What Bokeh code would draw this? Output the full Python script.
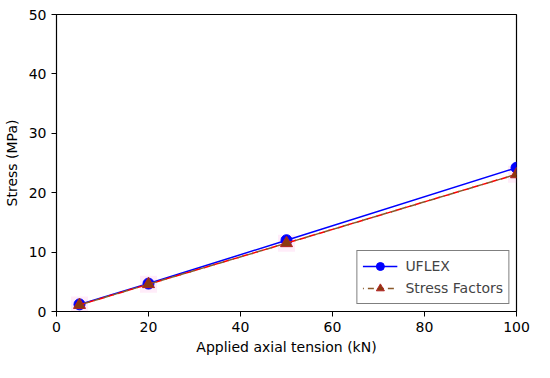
from bokeh.plotting import figure
from bokeh.models import Range1d, Legend, LegendItem, FixedTicker
from bokeh.embed import file_html
from bokeh.resources import INLINE

tension = [5, 20, 50, 100]
uflex = [1.2, 4.7, 12.0, 24.2]
stress_factors = [1.1, 4.6, 11.5, 23.1]
x_ticks = [0, 20, 40, 60, 80, 100]
y_ticks = [0, 10, 20, 30, 40, 50]

FONT = "DejaVu Sans"

p = figure(width=534, height=362, output_backend="svg", toolbar_location=None,
           x_range=Range1d(0, 100), y_range=Range1d(0, 50),
           min_border_left=53, min_border_right=18, min_border_top=14, min_border_bottom=51)
p.xgrid.visible = False
p.ygrid.visible = False
p.outline_line_color = "black"
p.outline_line_width = 1.2
p.background_fill_color = "white"

for ax in (p.xaxis[0], p.yaxis[0]):
    ax.axis_line_color = "black"
    ax.major_tick_line_color = "black"
    ax.major_tick_out = 5
    ax.major_tick_in = 0
    ax.minor_tick_line_color = None
    ax.major_label_text_font = FONT
    ax.major_label_text_font_size = "14px"
    ax.major_label_text_color = "black"
    ax.axis_label_text_font = FONT
    ax.axis_label_text_font_size = "14px"
    ax.axis_label_text_font_style = "normal"
    ax.axis_label_text_color = "black"

p.xaxis.ticker = FixedTicker(ticks=x_ticks)
p.yaxis.ticker = FixedTicker(ticks=y_ticks)
p.xaxis.axis_label = "Applied axial tension (kN)"
p.yaxis.axis_label = "Stress (MPa)"
p.xaxis.axis_label_standoff = 4
p.yaxis.axis_label_standoff = 6

# faint pink halo behind markers
p.scatter(tension, stress_factors, marker="square", size=17, fill_color="#ff66cc",
          fill_alpha=0.12, line_color=None)

l1 = p.line(tension, uflex, line_color="blue", line_width=1.5)
s1 = p.scatter(tension, uflex, marker="circle", size=11, fill_color="blue", line_color="blue")

l2 = p.line(tension, stress_factors, line_color="red", line_width=1.5, line_dash="6 4")
l2b = p.line(tension, stress_factors, line_color="#8B5A2B", line_width=1.5, line_dash="6 4",
             line_dash_offset=5)
s2 = p.scatter(tension, stress_factors, marker="triangle", size=12, fill_color="#8B3A0F",
               line_color="#b22222")

legend = Legend(items=[LegendItem(label="UFLEX", renderers=[l1, s1]),
                       LegendItem(label="Stress Factors", renderers=[l2b, s2])],
                location="bottom_right")
legend.label_text_font = FONT
legend.label_text_font_size = "14px"
legend.border_line_color = "black"
legend.border_line_width = 1
legend.margin = 7
legend.padding = 5
legend.spacing = 2
legend.glyph_width = 35
legend.label_standoff = 8
p.add_layout(legend)

open("out.html", "w").write(file_html(p, INLINE))
